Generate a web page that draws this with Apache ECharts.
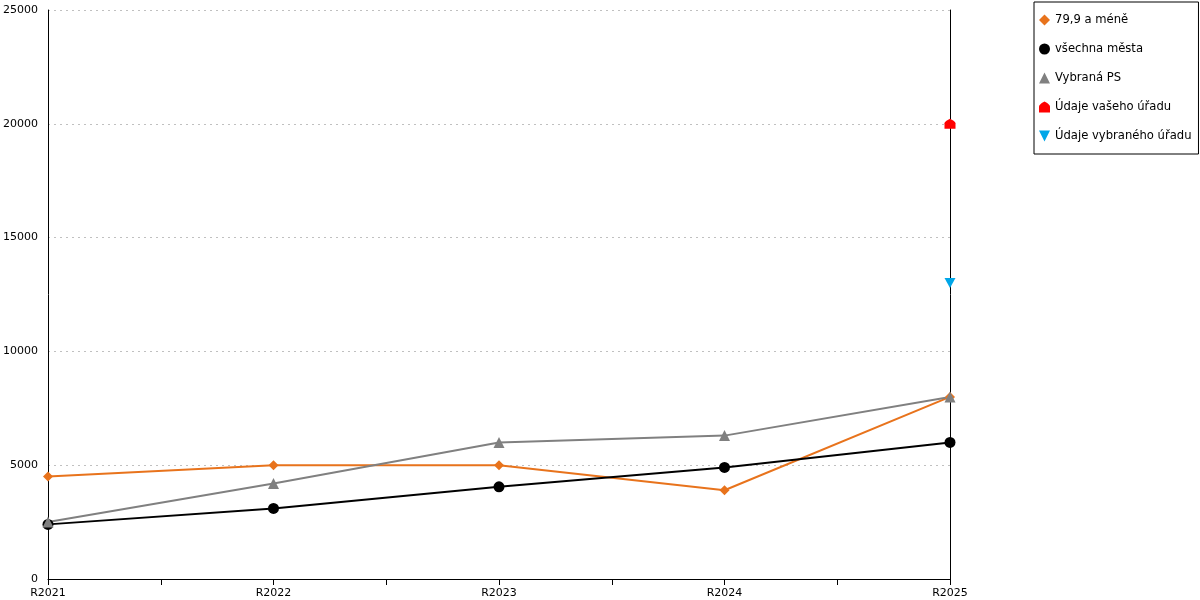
<!DOCTYPE html>
<html>
<head>
<meta charset="utf-8">
<script src="https://cdn.jsdelivr.net/npm/echarts@6/dist/echarts.min.js"></script>
<style>
  html, body { margin: 0; padding: 0; background: #fff; }
  #chart { width: 1200px; height: 600px; }
</style>
</head>
<body>
<div id="chart"></div>
<script>
// kategorie na ose x
const years = ['R2021', 'R2022', 'R2023', 'R2024', 'R2025'];

// hodnoty řad
const small = [4500, 5000, 5000, 3900, 8000];      // 79,9 a méně
const allCities = [2400, 3100, 4050, 4900, 6000];  // všechna města
const selectedPS = [2500, 4200, 6000, 6300, 8000]; // Vybraná PS
const yourOffice = [null, null, null, null, 20000];
const selectedOffice = [null, null, null, null, 13000];

const yTicks = [0, 5000, 10000, 15000, 20000, 25000];

const houseIcon = 'path://M5,0 C7,1 10,3 10,4.5 L10,10 L0,10 L0,4.5 C0,3 3,1 5,0 Z';
const downIcon = 'path://M0,0 L10,0 L5,10 Z';

// převod na dvojice [index, hodnota] pro hodnotovou osu x
function toPairs(arr) {
    return arr.map((v, i) => [i, v]).filter(p => p[1] !== null);
}

const chart = echarts.init(document.getElementById('chart'));

const font = 'DejaVu Sans';

const option = {
    animation: false,
    backgroundColor: '#fff',
    textStyle: { fontFamily: font },
    grid: { left: 48, right: 250, top: 10, bottom: 21 },
    legend: {
        orient: 'vertical',
        left: 1034,
        top: 2,
        padding: [12, 7, 12, 5],
        itemWidth: 11,
        itemHeight: 11,
        itemGap: 17,
        borderColor: '#000',
        borderWidth: 1,
        textStyle: { fontFamily: font, fontSize: 11.6, color: '#000' },
        data: [
            { name: '79,9 a méně', icon: 'diamond' },
            { name: 'všechna města', icon: 'circle' },
            { name: 'Vybraná PS', icon: 'triangle' },
            { name: 'Údaje vašeho úřadu', icon: houseIcon },
            { name: 'Údaje vybraného úřadu', icon: downIcon }
        ]
    },
    xAxis: {
        type: 'value',
        min: 0,
        max: years.length - 1,
        interval: 0.5,
        axisLine: { lineStyle: { color: '#000', width: 1 } },
        axisTick: { show: true, length: 6, lineStyle: { color: '#000' } },
        splitLine: { show: false },
        axisLabel: {
            color: '#000',
            fontSize: 11,
            margin: 9,
            showMinLabel: true,
            showMaxLabel: true,
            formatter: function (v) {
                return Number.isInteger(v) ? years[v] : '';
            }
        }
    },
    yAxis: [{
        type: 'value',
        min: yTicks[0],
        max: yTicks[yTicks.length - 1],
        interval: 5000,
        axisLine: { show: true, lineStyle: { color: '#000', width: 1 } },
        axisTick: { show: false },
        axisLabel: { color: '#000', fontSize: 11, margin: 10, formatter: v => String(v) },
        splitLine: { show: true, lineStyle: { color: '#c0c0c0', type: [2, 4], width: 1 } }
    }, {
        type: 'value',
        position: 'right',
        min: yTicks[0],
        max: yTicks[yTicks.length - 1],
        interval: 5000,
        axisLine: { show: true, lineStyle: { color: '#000', width: 1 } },
        axisTick: { show: false },
        axisLabel: { show: false },
        splitLine: { show: false }
    }],
    series: [
        {
            name: '79,9 a méně',
            type: 'line',
            data: toPairs(small),
            symbol: 'diamond',
            symbolSize: 10,
            itemStyle: { color: '#e8731c' },
            lineStyle: { color: '#e8731c', width: 2 }
        },
        {
            name: 'všechna města',
            type: 'line',
            data: toPairs(allCities),
            symbol: 'circle',
            symbolSize: 11,
            itemStyle: { color: '#000' },
            lineStyle: { color: '#000', width: 2 }
        },
        {
            name: 'Vybraná PS',
            type: 'line',
            data: toPairs(selectedPS),
            symbol: 'triangle',
            symbolSize: 11,
            itemStyle: { color: '#808080' },
            lineStyle: { color: '#808080', width: 2 }
        },
        {
            name: 'Údaje vašeho úřadu',
            type: 'line',
            data: toPairs(yourOffice),
            symbol: houseIcon,
            symbolSize: [11, 10],
            itemStyle: { color: '#ff0000' },
            lineStyle: { width: 0 }
        },
        {
            name: 'Údaje vybraného úřadu',
            type: 'line',
            data: toPairs(selectedOffice),
            symbol: downIcon,
            symbolSize: [11, 10],
            itemStyle: { color: '#00a6e8' },
            lineStyle: { width: 0 }
        }
    ]
};

chart.setOption(option);
</script>
</body>
</html>
